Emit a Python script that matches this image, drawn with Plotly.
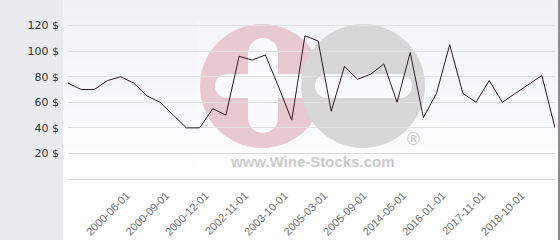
import plotly.graph_objects as go

# ---- data ----
prices = [75, 70, 70, 77, 80, 75, 65, 60, 50, 40, 40, 55, 50,
          96, 93, 97, 72, 46, 112, 108, 53, 88, 78, 82, 90,
          60, 99, 48, 67, 105, 67, 60, 77, 60, 67, 74, 81, 40]
tick_labels = ["2000-06-01", "2000-09-01", "2000-12-01", "2002-11-01",
               "2003-10-01", "2005-03-01", "2005-09-01", "2014-05-01",
               "2016-01-01", "2017-11-01", "2018-10-01"]
y_ticks = [20, 40, 60, 80, 100, 120]

x_idx = list(range(len(prices)))
tick_pos = list(range(4, 4 + 3 * len(tick_labels), 3))

W, H = 560, 240
ML, MR, MT, MB = 68, 5, 0, 61
PW, PH = W - ML - MR, H - MT - MB


def px(x):
    return (x - ML) / PW


def py(y):
    return (MT + PH - y) / PH


shapes = []
# left grey panel
shapes.append(dict(type="rect", xref="paper", yref="paper", layer="below",
                   x0=px(0), x1=px(63), y0=py(H), y1=py(0),
                   fillcolor="#e8ecef", line=dict(width=0)))
# vertical gradient background of plot area
n = 40
top = (239, 241, 246)
bot = (255, 255, 255)
for i in range(n):
    t = i / (n - 1)
    c = tuple(round(top[k] + (bot[k] - top[k]) * t) for k in range(3))
    y0 = PH * i / n
    y1 = PH * (i + 1) / n + 0.5
    shapes.append(dict(type="rect", xref="paper", yref="paper", layer="below",
                       x0=px(63), x1=px(558), y0=py(y1), y1=py(y0),
                       fillcolor="rgb(%d,%d,%d)" % c, line=dict(width=0)))
# right border
shapes.append(dict(type="line", xref="paper", yref="paper", layer="above",
                   x0=px(559), x1=px(559), y0=py(H), y1=py(0),
                   line=dict(color="#8c8c8c", width=2)))

# watermark
shapes.append(dict(type="rect", xref="paper", yref="paper", layer="below",
                   x0=px(197), x1=px(440), y0=py(176), y1=py(20),
                   fillcolor="rgba(255,255,255,0.2)", line=dict(width=0)))


def circ(cx, cy, r, color):
    return dict(type="circle", xref="paper", yref="paper", layer="below",
                x0=px(cx - r), x1=px(cx + r), y0=py(cy + r), y1=py(cy - r),
                fillcolor=color, line=dict(width=0))


def rect(x0, x1, y0, y1, color):
    return dict(type="rect", xref="paper", yref="paper", layer="below",
                x0=px(x0), x1=px(x1), y0=py(y1), y1=py(y0),
                fillcolor=color, line=dict(width=0))


pink = "#e8c8d1"
grey = "#d7d7d7"
wm_white = "#fafbfd"
shapes.append(circ(262, 86, 62, pink))
# white cross in pink circle
shapes.append(rect(248, 278, 53, 118, wm_white))
shapes.append(circ(263, 53, 15, wm_white))
shapes.append(circ(263, 118, 15, wm_white))
shapes.append(rect(227, 303, 74, 98, wm_white))
shapes.append(circ(227, 86, 12, wm_white))
# grey circle
shapes.append(circ(363, 86, 62, grey))
shapes.append(rect(327, 400, 74, 98, wm_white))
shapes.append(circ(327, 86, 12, wm_white))
shapes.append(circ(400, 86, 12, wm_white))
# white band behind the text
shapes.append(rect(197, 440, 152, 172, "rgba(255,255,255,0.85)"))

annotations = [
    dict(text="<b>www.Wine-Stocks.com</b>", xref="paper", yref="paper",
         x=px(312), y=py(161), showarrow=False, xanchor="center", yanchor="middle",
         font=dict(family="Liberation Sans, Arial", size=15, color="#cbcbcb")),
    dict(text="®", xref="paper", yref="paper",
         x=px(413), y=py(139), showarrow=False, xanchor="center", yanchor="middle",
         font=dict(family="DejaVu Sans", size=17, color="#c8c8c8")),
]

fig = go.Figure()
fig.add_trace(go.Scatter(x=x_idx, y=prices, mode="lines",
                         line=dict(color="#2e1a28", width=1),
                         cliponaxis=False, hoverinfo="skip"))

fig.update_layout(
    width=W, height=H,
    margin=dict(l=ML, r=MR, t=MT, b=MB),
    paper_bgcolor="white",
    plot_bgcolor="rgba(0,0,0,0)",
    showlegend=False,
    shapes=shapes,
    annotations=annotations,
    xaxis=dict(range=[0, len(prices) - 1], tickmode="array",
               tickvals=tick_pos, ticktext=tick_labels, tickangle=-45,
               showgrid=False, zeroline=False, showline=False, ticks="",
               ticklabelstandoff=7, ticklabelshift=6,
               tickfont=dict(family="Liberation Sans, Arial", size=11, color="#707070")),
    yaxis=dict(range=[0, 140], tickmode="array", tickvals=y_ticks,
               ticktext=["%d $" % v for v in y_ticks],
               showgrid=True, gridcolor="#e0e0e0", gridwidth=1,
               zeroline=True, zerolinecolor="#dcdcdc", zerolinewidth=1,
               showline=False, ticks="", ticklabelstandoff=8,
               tickfont=dict(family="DejaVu Sans", size=11, color="#333333")),
)

fig.write_html("out.html")
